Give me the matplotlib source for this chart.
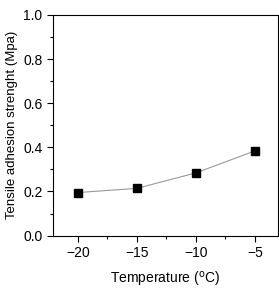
import matplotlib
matplotlib.use("Agg")
from matplotlib import pyplot
from matplotlib.ticker import MultipleLocator

temperature = [-20, -15, -10, -5]
strength = [0.195, 0.214, 0.284, 0.384]


def main() -> None:
    pyplot.rcParams["font.family"] = ["Liberation Sans", "DejaVu Sans"]
    figure = pyplot.figure(figsize=(2.79, 2.88), dpi=100)
    axes = figure.add_axes([0.19, 0.182, 0.806, 0.766])

    axes.plot(temperature, strength, color="#999999", linewidth=0.8,
              marker="s", markersize=6, markerfacecolor="black",
              markeredgecolor="black")

    axes.set_xlim(-22.1, -3.05)
    axes.set_ylim(0.0, 1.0)
    axes.xaxis.set_major_locator(MultipleLocator(5))
    axes.xaxis.set_minor_locator(MultipleLocator(2.5))
    axes.yaxis.set_major_locator(MultipleLocator(0.2))
    axes.yaxis.set_minor_locator(MultipleLocator(0.1))
    axes.set_xticks([-20, -15, -10, -5])
    axes.set_xticklabels(["\u221220", "\u221215", "\u221210", "\u22125"])
    axes.tick_params(which="major", direction="out", length=4, width=0.8,
                     labelsize=10, top=False, right=False)
    axes.tick_params(which="minor", direction="out", length=2.5, width=0.8,
                     top=False, right=False)

    axes.set_xlabel("Temperature ($^{\\mathrm{o}}$C)", fontsize=10, labelpad=7)
    axes.set_ylabel("Tensile adhesion strenght (Mpa)", fontsize=9.5, labelpad=4)

    figure.savefig("out.png", dpi=100)


if __name__ == "__main__":
    main()
